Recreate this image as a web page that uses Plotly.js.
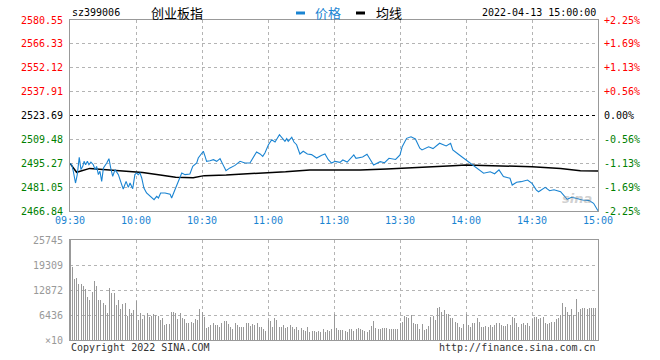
<!DOCTYPE html>
<html><head><meta charset="utf-8">
<script src="https://cdn.plot.ly/plotly-3.0.1.min.js"></script>
<style>html,body{margin:0;padding:0;background:#fff}#c{width:660px;height:360px}</style>
</head><body><div id="c"></div>
<script>
const timeLabels = ["09:30","10:00","10:30","11:00","11:30","13:30","14:00","14:30","15:00"];
const timeTicks = [0,30,60,90,120,150,180,210,240];
const priceLevels = [2580.55,2566.33,2552.12,2537.91,2523.69,2509.48,2495.27,2481.05,2466.84];
const pctLabels = ["+2.25%","+1.69%","+1.13%","+0.56%","0.00%","-0.56%","-1.13%","-1.69%","-2.25%"];
const prevClose = 2523.69;
const volLevels = [25745,19309,12872,6436,0];
const volLabels = ["25745","19309","12872","6436","×10"];

const priceMin = [0,0.8,1.5,2.5,3.3,4.2,5,5.8,6.4,7.1,7.9,8.6,9.5,10.6,11.4,12.1,12.9,13.6,14.4,15.2,16.7,17.7,18.5,19.4,20.5,22,23,24.2,25.5,26.5,27.3,28.5,29.5,30.3,31,31.8,32.6,33.6,34.8,36.4,38.2,39.4,40.2,41.2,43.2,45.5,46.2,47.7,49.2,50.8,52.3,54.5,55.8,57.6,58.3,59.8,60.6,61.4,62.1,63.6,65.2,66.7,68.2,69.7,70.9,72.7,75,77.3,79.5,81.8,83.3,84.8,86.4,87.6,88.6,90.2,91.7,93.2,95.2,97,97.7,98.5,99.2,100.8,101.8,103,104.5,106,107.9,109.8,112.1,114.4,115.9,117.4,118.9,120.5,122.7,124,126,129,130,133,135,138,141,143,145,148,150,151,153,155,157,159,160,163,165,168,171,173,174,177,180,183,186,188,191,193,195,197,200,201,203,205,208,210,212,213,216,218,220,223,226,228,230,233,236,238,240];
const priceVal = [2495.2,2494.4,2490.5,2483.5,2488.5,2498.8,2491.5,2493.4,2496.4,2494.4,2496.4,2494.4,2496.0,2494.4,2491.5,2493.4,2488.5,2490.5,2484.5,2492.5,2495.4,2498.0,2492.5,2487.5,2491.5,2488.5,2484.5,2479.9,2484.5,2480.9,2483.5,2480.1,2488.5,2489.5,2488.5,2489.5,2486.5,2480.5,2477.6,2475.6,2473.6,2475.6,2474.6,2477.6,2477.6,2476.9,2474.6,2479.5,2484.5,2489.5,2488.5,2488.9,2493.4,2495.4,2498.4,2501.4,2502.4,2499.4,2496.4,2496.8,2497.4,2496.4,2498.0,2494.0,2490.9,2492.5,2494.0,2496.4,2495.4,2495.4,2498.4,2502.0,2500.8,2499.4,2501.4,2506.3,2509.3,2507.9,2512.3,2509.3,2508.3,2509.9,2508.3,2510.7,2507.9,2506.3,2500.8,2502.4,2500.8,2500.4,2498.4,2500.0,2500.8,2497.4,2495.4,2496.4,2495.8,2497.2,2496.0,2500.2,2498.2,2499.0,2500.6,2494.2,2496.2,2495.6,2498.2,2497.5,2500.2,2505.1,2510.1,2511.0,2509.7,2504.2,2503.2,2505.1,2504.0,2507.2,2505.6,2507.2,2503.2,2500.2,2497.2,2494.2,2491.3,2489.3,2490.2,2489.0,2491.3,2487.3,2486.3,2482.3,2484.0,2484.3,2485.3,2483.3,2479.3,2478.3,2480.9,2478.9,2479.5,2478.3,2473.8,2475.0,2474.4,2473.4,2473.0,2471.4,2467.0];

const avgMin = [0,3,9,18,26,33,41,48,56,61,71,86,98,109,121,132,144,153,174,180,192,210,223,232,240];
const avgVal = [2495.2,2489.9,2492.2,2491.3,2490.2,2489.7,2488.3,2486.9,2486.7,2487.9,2488.3,2489.3,2490.2,2491.3,2491.3,2491.3,2491.9,2492.6,2493.8,2494.2,2493.8,2493.2,2492.2,2490.8,2490.6];

const volume = [25745,18880,15619,15877,14418,14418,13903,13045,11157,10298,12444,15190,13903,10298,10298,9612,9011,6866,13302,12015,12186,9011,10298,7895,9268,9612,6179,7895,6866,7724,10127,
5149,6866,5321,6179,7037,5836,6179,6608,6437,6179,5149,5578,3862,4034,4034,7295,7123,6866,5321,7037,5578,5321,4463,4463,4720,4463,5321,5149,7895,7295,
5836,3004,3433,3862,4463,3862,3862,3433,4463,4978,4978,4119,3433,2746,4291,3776,3261,3261,3261,4291,4291,3604,4034,3862,4291,3261,3433,2918,2317,5149,
4978,3433,5578,5149,3433,3261,3862,3004,3261,3862,3433,2746,3261,2575,3004,2575,2317,3433,2146,2317,2231,2146,2317,2146,2746,2146,2575,2317,2746,6694,
3004,2575,2575,2575,2403,2146,2746,2832,2317,2832,3004,2746,2575,2317,1974,2575,3690,4892,3004,2746,2832,3175,3004,3004,2918,2746,2832,2746,2746,4291,
4720,6179,5836,5578,6351,4291,4119,4119,2746,4034,2575,2832,3604,5836,6179,5149,8325,8582,7295,7724,6694,6608,5664,5578,4720,4291,3433,3004,4119,6608,
3862,3433,4291,4463,5750,4720,3433,3433,3604,3433,3862,3433,3862,4463,4463,3862,3604,3690,4034,3776,5836,5578,4463,3433,4034,4291,3776,4291,3690,5321,
5836,5836,5321,5578,5836,4291,4119,4463,4720,4720,5321,5578,6437,9440,8410,7295,6437,7895,6437,10470,7295,7895,8153,8153,7895,8153,8153,8153,8153,687];
const volMin = volume.map((v,i)=>i);

const L=70, R=598, T=20, B=340;
const px = p => (p-L)/(R-L);
const py = p => (B-p)/(B-T);
const MONO = "DejaVu Sans Mono, Liberation Mono, monospace";
const CJK = "Noto Sans CJK SC, sans-serif";

const traces = [
  {type:'bar', x:volMin, y:volume, xaxis:'x2', yaxis:'y2', width:0.45, marker:{color:'#999999', line:{width:0}}, hoverinfo:'skip'},
  {type:'scatter', mode:'lines', x:avgMin, y:avgVal, xaxis:'x', yaxis:'y', line:{color:'#000000', width:1.5}, hoverinfo:'skip'},
  {type:'scatter', mode:'lines', x:priceMin, y:priceVal, xaxis:'x', yaxis:'y', line:{color:'#1a84d2', width:1.1}, hoverinfo:'skip'}
];

const annotations = [];
priceLevels.forEach((v,i)=>{
  const col = v>prevClose+0.01 ? '#ff0000' : (v<prevClose-0.01 ? '#008000' : '#000000');
  annotations.push({xref:'paper', yref:'y', x:px(65), y:v, xanchor:'right', yanchor:'middle', text:v.toFixed(2), showarrow:false, font:{family:MONO, size:10, color:col}});
  annotations.push({xref:'paper', yref:'y', x:px(602), y:v, xanchor:'left', yanchor:'middle', text:pctLabels[i], showarrow:false, font:{family:MONO, size:10, color:col}});
});
volLevels.forEach((v,i)=>{
  annotations.push({xref:'paper', yref:'y2', x:px(65), y:v, xanchor:'right', yanchor:'middle', text:volLabels[i], showarrow:false, font:{family:MONO, size:10, color:'#999999'}});
});
annotations.push({xref:'paper', yref:'paper', x:px(70), y:py(13), xanchor:'left', yanchor:'middle', text:'sz399006', showarrow:false, font:{family:MONO, size:10, color:'#000'}});
annotations.push({xref:'paper', yref:'paper', x:px(149), y:py(13), xanchor:'left', yanchor:'middle', text:'创业板指', showarrow:false, font:{family:CJK, size:13, color:'#000'}});
annotations.push({xref:'paper', yref:'paper', x:px(313), y:py(13), xanchor:'left', yanchor:'middle', text:'价格', showarrow:false, font:{family:CJK, size:13, color:'#1a84d2'}});
annotations.push({xref:'paper', yref:'paper', x:px(374), y:py(13), xanchor:'left', yanchor:'middle', text:'均线', showarrow:false, font:{family:CJK, size:13, color:'#000'}});
annotations.push({xref:'paper', yref:'paper', x:px(598), y:py(13), xanchor:'right', yanchor:'middle', text:'2022-04-13 15:00:00', showarrow:false, font:{family:MONO, size:10, color:'#000'}});
annotations.push({xref:'paper', yref:'paper', x:px(69), y:py(347), xanchor:'left', yanchor:'middle', text:'Copyright 2022 SINA.COM', showarrow:false, font:{family:MONO, size:10, color:'#333'}});
annotations.push({xref:'paper', yref:'paper', x:px(598), y:py(347), xanchor:'right', yanchor:'middle', text:'http://finance.sina.com.cn', showarrow:false, font:{family:MONO, size:10, color:'#333'}});
annotations.push({xref:'paper', yref:'paper', x:px(577), y:py(198), xanchor:'center', yanchor:'middle', text:'<i><b>sina</b></i>', showarrow:false, font:{family:'DejaVu Sans, sans-serif', size:13, color:'rgba(150,150,150,0.45)'}});

const shapes = [
  {type:'line', xref:'x', yref:'y', x0:0, x1:240, y0:prevClose, y1:prevClose, line:{color:'#000', width:1, dash:'dot'}},
  {type:'line', xref:'paper', yref:'paper', x0:px(296), x1:px(305), y0:py(13), y1:py(13), line:{color:'#1a84d2', width:3}},
  {type:'line', xref:'paper', yref:'paper', x0:px(356), x1:px(365), y0:py(13), y1:py(13), line:{color:'#000', width:3}}
];

const gridStyle = {gridcolor:'#b4b4b4', griddash:'dot', gridwidth:1};
const layout = {
  width:660, height:360, margin:{l:L, r:660-R, t:T, b:360-B},
  paper_bgcolor:'#fff', plot_bgcolor:'#fff', showlegend:false, bargap:0,
  xaxis:Object.assign({domain:[0,1], anchor:'y', range:[0,240], tickvals:timeTicks, ticktext:timeLabels, ticks:'', tickfont:{family:MONO, size:10, color:'#1a84d2'}, showline:true, mirror:true, linecolor:'#999', linewidth:1, zeroline:false, fixedrange:true}, gridStyle),
  yaxis:Object.assign({domain:[py(211),1], anchor:'x', range:[priceLevels[8], priceLevels[0]], tickvals:priceLevels, showticklabels:false, ticks:'', showline:true, mirror:true, linecolor:'#999', linewidth:1, zeroline:false}, gridStyle),
  xaxis2:Object.assign({domain:[0,1], anchor:'y2', range:[0,240], tickvals:timeTicks, showticklabels:false, ticks:'', showline:true, mirror:true, linecolor:'#999', linewidth:1, zeroline:false}, gridStyle),
  yaxis2:Object.assign({domain:[0,py(240)], anchor:'x2', range:[0,25745], tickvals:volLevels, showticklabels:false, ticks:'', showline:true, mirror:true, linecolor:'#999', linewidth:1, zeroline:false}, gridStyle),
  annotations:annotations, shapes:shapes
};
Plotly.newPlot('c', traces, layout, {staticPlot:true, displayModeBar:false});
</script></body></html>
